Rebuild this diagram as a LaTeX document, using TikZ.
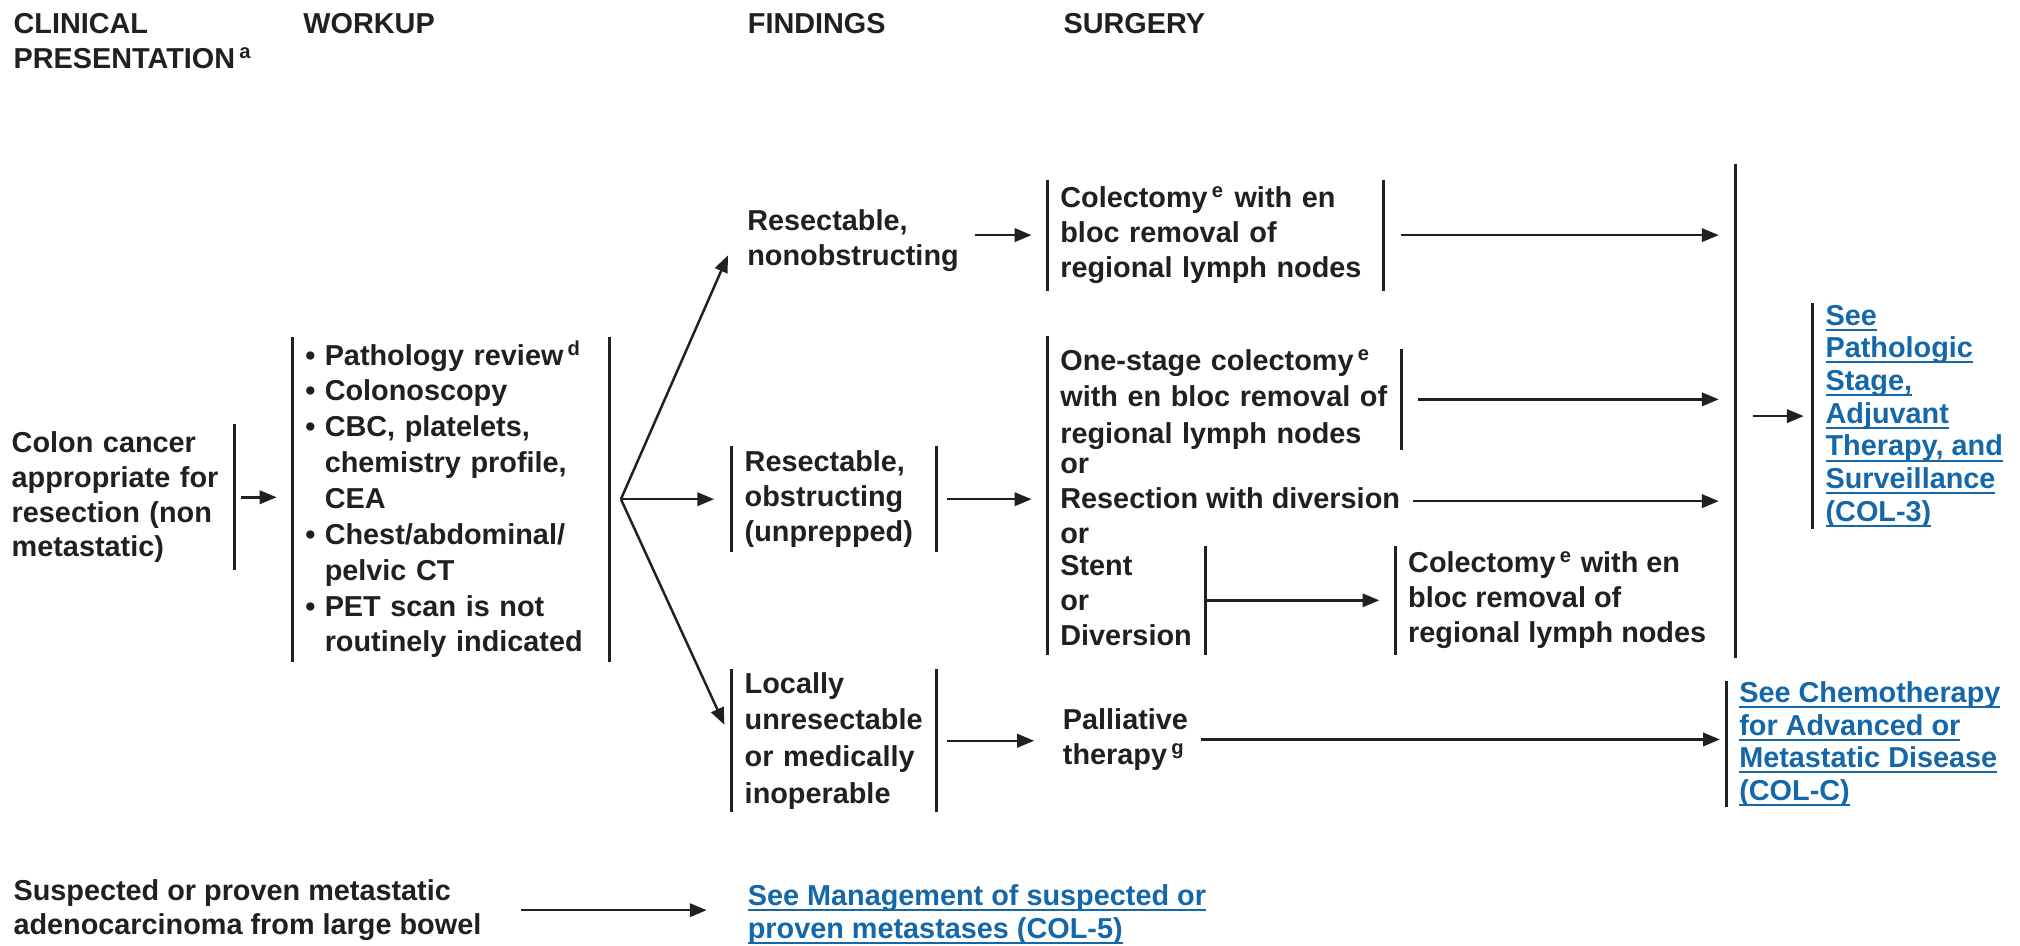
\documentclass[tikz,border=0pt]{standalone}
\usepackage{fontspec}
\setmainfont{Liberation Sans}
\usepackage{tikz}
\usetikzlibrary{arrows.meta,positioning,calc}
\definecolor{ink}{HTML}{231F20}
\definecolor{linkblue}{HTML}{1467A8}
\newcommand{\bul}{\makebox[5.5pt][l]{\textbullet}}
\newcommand{\ind}{\hspace*{5.5pt}}
\newcommand{\fn}[1]{\kern1.2pt\textsuperscript{#1}}
\newlength{\lnkw}
\newcommand{\lnk}[1]{\settowidth{\lnkw}{#1}\rlap{\rule[-1.6pt]{\lnkw}{0.55pt}}#1}

\begin{document}
\begin{tikzpicture}[x=0.01288cm,y=-0.01288cm,
  font=\bfseries\fontsize{8.2}{9.9}\selectfont,text=ink,
  hd/.style={anchor=north west,inner sep=0pt,align=left},
  box/.style={anchor=west,align=left,inner xsep=3.5pt,inner ysep=0pt},
  wide/.style={font=\bfseries\fontsize{8.2}{10.4}\selectfont},
  link/.style={box,text=linkblue,font=\bfseries\fontsize{8.2}{9.3}\selectfont},
  bar/.style={draw=ink,line width=0.8pt},
  gate/.style={inner sep=0pt,minimum width=0pt,minimum height=4.92cm},
  arr/.style={draw=ink,line width=0.7pt,-{Triangle[length=4.8pt,width=3.8pt]},shorten >=4.5pt,shorten <=3pt}]
  \useasboundingbox (0,0) rectangle (1568,734);
  % headings
  \node[hd] (hclin) at (10,10) {CLINICAL\\PRESENTATION\fn{a}};
  \node[hd] (hwork) at (235,10) {WORKUP};
  \node[hd] (hfind) at (580,10) {FINDINGS};
  \node[hd] (hsurg) at (825,10) {SURGERY};
  % presentation, workup
  \node[box,text width=2.1cm,minimum height=1.443cm] (cc) at (-1,386) {Colon cancer\\appropriate for\\resection (non\\metastatic)};
  \node[box,text width=2.908cm,minimum height=3.233cm,font=\bfseries\fontsize{8.2}{10.2}\selectfont] (wk) at (227,387.5) {\bul Pathology review\fn{d}\\\bul Colonoscopy\\\bul CBC, platelets,\\\ind chemistry profile,\\\ind CEA\\\bul Chest/abdominal/\\\ind pelvic CT\\\bul PET scan is not\\\ind routinely indicated};
  % findings
  \node[box] (rn) at (570,187) {Resectable,\\nonobstructing};
  \node[box,text width=1.788cm,minimum height=1.043cm] (ro) at (568,387.5) {Resectable,\\obstructing\\(unprepped)};
  \node[box,wide,text width=1.788cm,minimum height=1.417cm] (lu) at (568,575) {Locally\\unresectable\\or medically\\inoperable};
  % surgery
  \node[box,text width=3.101cm,minimum height=1.095cm] (c1) at (813,182.5) {Colectomy\fn{e} with en\\bloc removal of\\regional lymph nodes};
  \node[box,wide,text width=3.282cm,minimum height=0.966cm] (os) at (813,310) {One-stage colectomy\fn{e}\\with en bloc removal of\\regional lymph nodes};
  \node[box] (mid) at (813,389) {or\\Resection with diversion\\or};
  \node[box,text width=1.324cm,minimum height=1.082cm] (sd) at (813,466) {Stent\\or\\Diversion};
  \node[box,minimum height=1.082cm] (c2) at (1083,466) {Colectomy\fn{e} with en\\bloc removal of\\regional lymph nodes};
  \node[box] (pt) at (815,574) {Palliative\\therapy\fn{g}};
  % outcomes
  \node[gate] (gate) at (1347,319) {};
  \node[link,minimum height=2.241cm] (see1) at (1407,323) {\lnk{See}\\\lnk{Pathologic}\\\lnk{Stage,}\\\lnk{Adjuvant}\\\lnk{Therapy, and}\\\lnk{Surveillance}\\\lnk{(COL-3)}};
  \node[link,minimum height=1.224cm] (see2) at (1340,577.5) {\lnk{See Chemotherapy}\\\lnk{for Advanced or}\\\lnk{Metastatic Disease}\\\lnk{(COL-C)}};
  % metastatic
  \node[box] (sm) at (0.4,706.5) {Suspected or proven metastatic\\adenocarcinoma from large bowel};
  \node[link] (see3) at (570.4,710) {\lnk{See Management of suspected or}\\\lnk{proven metastases (COL-5)}};
  % bars
  \draw[bar] (cc.north east) -- (cc.south east);
  \foreach \n in {wk,ro,lu,c1,c2,see1,see2} \draw[bar] (\n.north west) -- (\n.south west);
  \foreach \n in {wk,ro,lu,c1,os,sd} \draw[bar] (\n.north east) -- (\n.south east);
  \draw[bar] ($(os.north west)+(0,-10)$) -- (sd.south west);
  \draw[bar] (gate.north) -- (gate.south);
  % arrows
  \draw[arr,shorten <=1.8pt] (cc.east) -- (cc.east -| wk.west);
  \coordinate (fan) at ($(wk.east)+(9,0)$);
  \draw[arr,shorten <=0pt] (fan) -- (rn.west);
  \draw[arr,shorten <=0pt,shorten >=5pt] (fan) -- (ro.west);
  \draw[arr,shorten <=0pt,shorten >=5pt] (fan) -- (lu.west);
  \draw[arr,shorten <=1pt] (rn.east |- c1.west) -- (c1.west);
  \draw[arr] (ro.east) -- (ro.east -| os.west);
  \draw[arr] (lu.east) -- (lu.east -| pt.west);
  \draw[arr,shorten <=5pt] (c1.east) -- (c1.east -| gate.west);
  \draw[arr,shorten <=4.5pt] (os.east) -- (os.east -| gate.west);
  \draw[arr,shorten <=0pt] (mid.east) -- (mid.east -| gate.west);
  \draw[arr,shorten <=0pt] (sd.east) -- (sd.east -| c2.west);
  \draw[arr,shorten <=0pt,shorten >=1.8pt] (pt.east) -- (pt.east -| see2.west);
  \draw[arr,shorten <=4.7pt,shorten >=2.5pt] (gate.east |- see1.west) -- (see1.west);
  \draw[arr,shorten <=7.5pt,shorten >=8pt] (sm.east) -- (sm.east -| see3.west);
\end{tikzpicture}
\end{document}
